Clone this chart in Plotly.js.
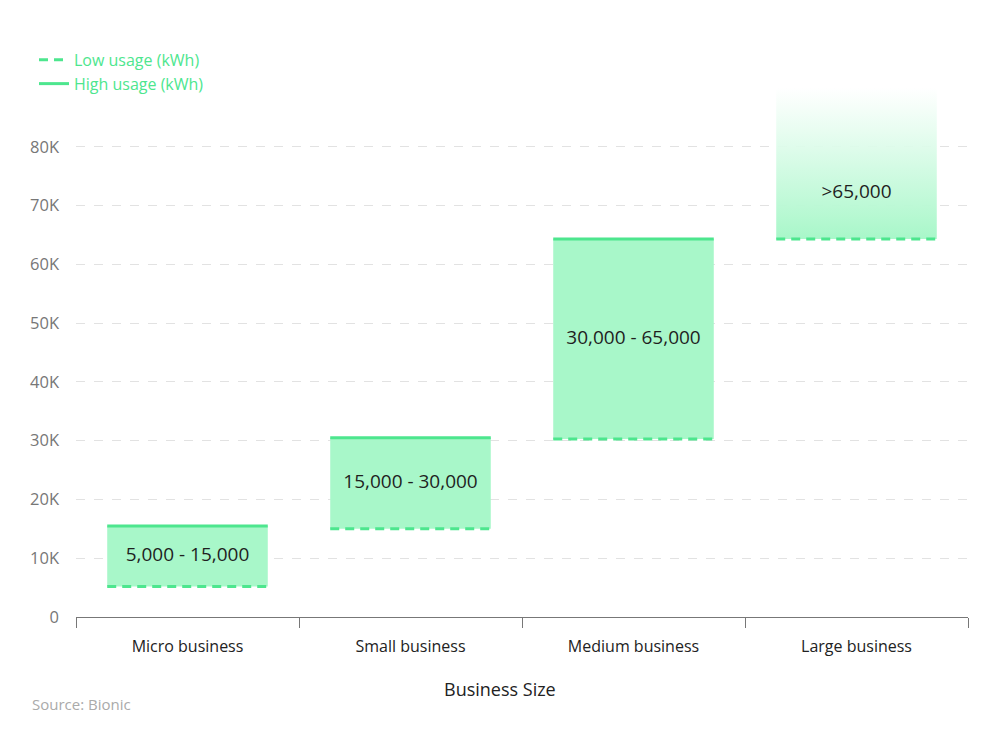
<!DOCTYPE html>
<html>
<head>
<meta charset="utf-8">
<script src="https://cdn.plot.ly/plotly-3.0.1.min.js"></script>
<style>html,body{margin:0;padding:0;background:#fff;}#chart{width:1000px;height:740px;}</style>
</head>
<body>
<div id="chart"></div>
<script>
// ---- data ----
const categories = ["Micro business", "Small business", "Medium business", "Large business"];
const lowUsage = [5200, 15000, 30300, 64300];
const highUsage = [15500, 30500, 64300, 90000];
const rangeLabels = ["5,000 - 15,000", "15,000 - 30,000", "30,000 - 65,000", ">65,000"];
const openEnded = [false, false, false, true];
const yTickVals = [0, 10000, 20000, 30000, 40000, 50000, 60000, 70000, 80000];
const yTickText = ["0", "10K", "20K", "30K", "40K", "50K", "60K", "70K", "80K"];

// ---- styling ----
const GREEN = "#4de68e";
const FILL = "#a8f7c9";
const HALF = 0.36;
const FONT = "'Open Sans', 'Noto Sans', sans-serif";

const traces = [];
const idx = categories.map((_, i) => i);

// filled ranges
idx.forEach(i => {
  const x0 = i - HALF, x1 = i + HALF;
  const t = {
    x: [x0, x1, x1, x0, x0],
    y: [lowUsage[i], lowUsage[i], highUsage[i], highUsage[i], lowUsage[i]],
    type: "scatter", mode: "lines", fill: "toself", fillcolor: FILL,
    line: {width: 0, color: "rgba(0,0,0,0)"},
    hoverinfo: "skip", showlegend: false, xaxis: "x", yaxis: "y"
  };
  if (openEnded[i]) {
    t.fillgradient = {type: "vertical", start: lowUsage[i], stop: highUsage[i],
      colorscale: [[0, "rgba(168,247,201,1)"], [1, "rgba(255,255,255,0.9)"]]};
  }
  traces.push(t);
});

// low usage (dashed) lines
const lowX = [], lowY = [];
idx.forEach(i => { lowX.push(i - HALF, i + HALF, null); lowY.push(lowUsage[i], lowUsage[i], null); });
traces.push({x: lowX, y: lowY, type: "scatter", mode: "lines", name: "Low usage (kWh)",
  line: {color: GREEN, width: 3, dash: "9px,6px"}, hoverinfo: "skip", showlegend: true});

// high usage (solid) lines, only for closed ranges
const highX = [], highY = [];
idx.forEach(i => { if (!openEnded[i]) { highX.push(i - HALF, i + HALF, null); highY.push(highUsage[i], highUsage[i], null); } });
traces.push({x: highX, y: highY, type: "scatter", mode: "lines", name: "High usage (kWh)",
  line: {color: GREEN, width: 3}, hoverinfo: "skip", showlegend: true});

// range labels
const labelY = idx.map(i => (lowUsage[i] + Math.min(highUsage[i], 80000)) / 2);
traces.push({x: idx, y: labelY, type: "scatter", mode: "text", text: rangeLabels,
  textposition: "middle center", textfont: {family: FONT, size: 19, color: "#1f1f1f"},
  hoverinfo: "skip", showlegend: false});

// dummy trace on xaxis2 to anchor category labels
traces.push({x: idx, y: idx.map(() => null), xaxis: "x2", yaxis: "y", type: "scatter", mode: "markers",
  showlegend: false, hoverinfo: "skip"});

const boundaries = [-0.5, 0.5, 1.5, 2.5, 3.5];

const layout = {
  width: 1000, height: 740,
  margin: {l: 76, r: 32, t: 88, b: 123, autoexpand: false},
  paper_bgcolor: "#fff", plot_bgcolor: "#fff",
  font: {family: FONT, size: 15, color: "#222"},
  showlegend: true,
  legend: {xref: "container", yref: "container", x: 0.034, y: 0.942, xanchor: "left", yanchor: "top",
    font: {family: FONT, size: 16, color: GREEN}, bgcolor: "rgba(0,0,0,0)", tracegroupgap: 0,
    traceorder: "normal"},
  xaxis: {
    type: "linear", range: [-0.5, 3.5], tickvals: boundaries, ticktext: boundaries.map(() => ""),
    ticks: "outside", ticklen: 10, tickcolor: "#777", tickwidth: 1,
    showline: true, linecolor: "#777", linewidth: 1, showgrid: false, zeroline: false
  },
  xaxis2: {
    type: "linear", range: [-0.5, 3.5], overlaying: "x", anchor: "y", side: "bottom",
    tickvals: idx, ticktext: categories, ticks: "", showline: false, showgrid: false, zeroline: false,
    tickfont: {family: FONT, size: 16, color: "#222"}, ticklabelstandoff: 18
  },
  yaxis: {
    range: [0, 90000], tickvals: yTickVals, ticktext: yTickText,
    tickfont: {family: FONT, size: 16.5, color: "#777"}, ticks: "", ticklabelstandoff: 16,
    showgrid: true, gridcolor: "#e2e2e2", griddash: "dash", gridwidth: 1,
    zeroline: false, showline: false
  },
  annotations: [{
    text: "Business Size", xref: "paper", yref: "paper", x: 0.4753, y: -0.136,
    xanchor: "center", yanchor: "middle", showarrow: false,
    font: {family: FONT, size: 18, color: "#222"}
  }, {
    text: "Source: Bionic", xref: "paper", yref: "paper", x: -0.0516, y: -0.1645,
    xanchor: "left", yanchor: "middle", showarrow: false,
    font: {family: FONT, size: 15, color: "#aaa"}
  }]
};

Plotly.newPlot("chart", traces, layout, {displayModeBar: false, staticPlot: true});
</script>
</body>
</html>
